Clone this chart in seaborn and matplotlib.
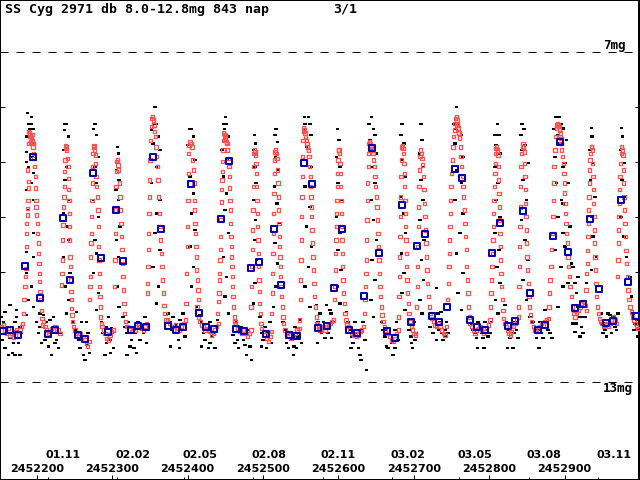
import matplotlib
matplotlib.use("Agg")
import matplotlib.pyplot as plt
import seaborn as sns
import pandas as pd
from matplotlib.transforms import blended_transform_factory

# ---------------- data (days are JD - 2452000, magnitudes) ----------------
JD0 = 2452000

red_day = [
    153.5,155.7,157.9,160.1,162.4,164.6,166.8,169.0,171.2,173.4,175.6,177.8,180.0,181.4,
    182.2,183.1,184.5,184.9,185.8,186.2,186.7,186.7,187.5,187.5,188.4,188.9,188.9,188.0,188.9,189.3,190.2,
    190.2,191.1,192.0,192.8,193.7,194.6,195.5,192.0,193.7,195.1,
    195.5,196.4,197.3,198.2,198.6,199.0,199.0,199.9,200.8,201.2,202.1,202.1,203.0,203.5,203.9,204.3,205.2,206.1,207.0,207.9,
    208.8,211.0,213.2,215.4,217.6,219.8,222.0,224.2,226.4,228.7,230.9,
    232.6,233.5,234.0,234.4,234.8,235.3,236.2,236.6,237.0,237.5,237.9,
    238.4,239.3,239.7,
    240.6,241.5,241.9,242.4,242.8,243.2,243.2,243.7,244.1,244.6,245.0,245.4,245.9,246.3,246.8,247.7,
    248.5,250.8,253.0,255.2,257.4,261.8,264.0,266.2,267.5,269.3,
    269.8,270.6,271.1,271.5,272.0,272.4,272.9,273.3,273.7,274.2,274.6,275.1,
    275.9,276.8,277.7,
    278.2,278.6,279.5,280.4,281.3,281.7,282.1,282.6,283.0,283.5,283.9,284.3,284.8,285.7,
    286.6,288.3,290.5,292.7,295.0,297.2,299.4,301.6,
    302.9,303.8,304.2,304.7,305.1,305.6,306.0,
    306.9,307.8,308.7,
    309.5,310.4,311.3,311.7,312.2,313.1,313.5,314.4,314.8,315.7,316.6,317.5,318.8,
    320.1,322.8,325.4,328.1,330.3,332.5,334.7,336.9,339.2,341.4,343.6,345.8,
    346.7,347.1,347.5,348.0,348.4,348.9,349.3,349.8,350.2,351.1,352.0,352.9,
    353.7,354.6,355.5,356.4,357.3,
    358.2,359.0,359.9,360.8,361.7,362.6,363.5,364.3,365.2,366.1,367.0,367.9,368.8,370.1,371.4,
    373.2,375.8,378.5,381.1,383.8,386.4,389.1,391.7,394.4,397.1,
    397.9,398.8,399.7,400.1,400.6,401.0,401.5,401.9,
    403.2,404.6,405.9,
    406.8,407.7,408.5,409.0,409.4,409.9,410.3,411.2,411.6,412.1,413.0,413.8,414.7,412.6,414.3,416.5,
    418.7,420.9,423.2,425.4,427.6,429.8,432.0,434.2,436.4,438.6,440.8,
    439.9,440.8,441.7,442.2,442.6,443.1,443.5,443.9,444.4,444.8,445.3,445.7,446.1,446.6,447.0,447.5,447.9,
    448.8,449.7,450.6,451.5,452.3,448.8,450.6,
    453.2,454.1,455.0,455.4,455.9,456.3,456.8,457.2,457.6,458.1,458.5,459.0,459.4,459.8,460.3,461.2,462.1,462.9,
    463.8,466.5,469.1,471.8,474.4,477.1,479.7,482.4,484.2,
    484.2,485.0,485.5,485.9,486.4,486.8,487.3,487.7,488.1,488.6,
    489.5,490.3,
    490.8,491.2,491.7,492.1,492.6,493.0,493.4,493.9,494.3,494.8,495.2,495.6,496.5,497.4,
    498.3,500.5,502.7,504.9,507.1,509.4,511.6,
    511.6,512.4,512.9,513.3,513.8,514.2,514.7,515.1,515.5,516.0,
    516.9,517.7,518.6,
    519.5,520.0,520.4,520.8,521.3,521.7,522.2,522.6,523.1,523.5,523.9,524.8,525.7,526.6,527.5,
    529.2,531.9,534.5,537.2,539.8,542.5,545.2,547.8,
    548.7,549.6,550.0,550.5,550.9,551.3,551.8,552.2,552.7,553.1,553.6,554.0,
    554.9,555.8,556.6,557.5,558.4,559.3,560.2,
    561.1,562.0,562.8,563.3,563.7,564.2,564.6,565.0,565.5,566.4,566.8,567.7,568.6,569.5,570.8,572.6,574.3,
    571.2,573.4,575.6,577.8,580.1,582.3,584.5,586.7,588.9,591.1,593.3,
    594.6,595.5,596.0,596.4,596.8,597.3,597.7,598.2,598.6,599.1,599.5,599.9,
    600.8,601.7,
    602.2,602.6,603.0,603.5,603.9,604.4,604.8,605.2,605.7,606.1,607.0,607.9,608.8,610.1,611.4,
    613.2,615.4,617.6,619.8,622.0,624.3,626.5,628.7,630.9,633.1,
    634.4,635.3,636.2,636.6,637.1,637.5,638.0,638.4,638.8,639.7,640.2,640.6,
    641.5,642.4,643.3,644.1,645.0,645.9,
    646.8,647.7,648.6,649.4,650.3,651.2,652.1,652.5,653.0,653.9,654.3,655.2,656.1,657.0,657.8,659.2,660.9,
    662.7,665.4,668.0,670.7,673.3,675.1,677.3,679.5,
    679.5,680.4,680.8,681.3,681.7,682.2,682.6,683.0,683.5,683.9,
    684.8,685.7,686.6,
    687.0,687.5,687.9,688.3,688.8,689.2,689.7,690.1,690.6,691.0,691.9,692.8,693.6,695.0,697.2,
    698.1,700.3,702.5,
    703.8,704.7,705.1,705.6,706.0,706.5,706.9,707.3,708.2,709.1,
    710.0,710.9,711.8,
    712.7,713.5,714.4,714.9,715.7,716.2,716.6,717.5,718.4,719.3,720.6,721.9,723.7,725.9,728.1,730.3,
    732.5,734.7,736.9,739.2,741.4,743.6,
    744.9,745.8,746.7,747.1,747.5,748.0,748.4,748.9,749.3,750.2,751.1,752.0,752.9,753.7,754.6,755.5,
    756.4,757.3,758.2,759.0,759.9,760.8,757.3,759.0,
    761.7,762.6,763.5,764.3,765.2,766.1,767.0,767.9,768.8,769.6,770.1,771.0,771.9,772.7,773.6,774.9,
    776.7,778.9,781.1,783.4,785.6,787.8,790.0,792.2,794.4,796.6,798.8,801.0,
    801.5,802.4,803.2,803.7,804.1,805.0,805.5,805.9,806.3,806.8,807.7,808.1,808.5,809.0,
    809.9,810.8,811.6,
    812.1,812.5,813.0,813.4,813.8,814.3,814.7,815.2,815.6,816.5,817.4,818.3,819.2,820.9,822.7,
    824.5,826.2,828.0,829.8,832.0,834.2,836.4,838.6,
    838.6,839.5,839.9,840.4,840.8,841.3,841.7,842.1,843.0,843.9,
    844.8,845.7,846.6,
    847.0,847.5,847.9,848.3,848.8,849.2,849.6,850.1,851.0,851.9,852.7,853.6,855.0,856.3,858.5,860.7,
    862.9,865.1,867.3,869.5,871.8,874.0,876.2,878.4,
    879.3,880.1,881.0,881.9,882.8,883.7,884.6,885.5,885.9,886.3,887.2,888.1,889.0,889.9,
    890.8,891.7,892.5,893.4,894.3,895.2,896.1,
    893.9,895.2,896.1,897.4,898.3,899.2,899.6,900.1,900.5,901.0,901.9,902.7,903.6,904.5,905.4,906.3,907.2,908.9,910.7,912.5,
    913.8,916.0,918.2,920.4,922.6,924.8,927.1,929.3,
    928.4,929.3,930.1,930.6,931.0,931.5,931.9,932.4,932.8,933.2,933.7,934.6,935.4,
    935.9,936.8,
    937.2,937.7,938.1,938.5,939.0,939.4,939.9,940.3,940.8,941.6,942.5,943.4,944.7,946.1,947.8,
    949.2,951.4,953.6,955.8,958.0,960.2,962.4,964.6,966.8,969.0,
    969.9,970.8,971.3,971.7,972.1,972.6,973.0,973.5,974.3,975.2,975.7,
    976.6,977.4,
    977.9,978.3,978.8,979.6,980.1,980.5,981.4,982.3,983.2,984.1,985.4,986.7,988.5,990.3,992.0,993.8,995.6,997.3,
]
red_mag = [
    12.00,11.97,12.06,12.12,12.03,12.15,12.12,12.20,12.09,12.06,12.15,12.06,12.00,11.94,
    11.76,11.51,11.27,11.09,10.94,10.54,10.30,10.12,9.97,9.85,9.70,9.48,9.36,9.15,8.67,8.45,8.54,
    8.48,8.51,8.54,8.57,8.61,8.64,8.67,8.64,8.51,8.73,
    8.85,8.94,9.09,9.27,9.48,9.70,9.82,9.97,10.12,10.30,10.48,10.67,10.85,11.03,11.18,11.36,11.51,11.70,11.85,11.97,
    11.91,12.00,12.06,12.12,12.09,12.03,12.06,12.00,12.09,12.06,12.12,
    11.24,11.03,10.79,10.42,10.15,9.82,9.64,9.45,9.18,8.97,8.76,
    8.70,8.73,8.79,
    8.94,9.09,9.30,9.51,9.70,9.94,10.18,10.42,10.73,10.91,11.15,11.36,11.51,11.67,11.79,11.91,
    12.00,12.06,12.12,12.15,12.12,12.18,12.24,12.30,12.36,12.27,
    11.51,11.27,11.09,10.73,10.48,10.30,10.00,9.70,9.39,9.09,8.85,8.73,
    8.70,8.79,8.88,
    9.03,9.27,9.45,9.64,9.88,10.18,10.54,10.79,11.03,11.27,11.45,11.64,11.82,11.94,
    12.00,12.06,12.12,12.21,12.24,12.15,12.09,12.06,
    11.27,10.79,10.30,9.88,9.45,9.18,9.00,
    8.97,9.06,9.15,
    9.39,9.64,9.88,10.12,10.36,10.60,10.85,11.09,11.33,11.58,11.76,11.91,12.00,
    12.00,12.06,12.09,12.03,12.06,12.00,11.97,12.00,12.03,12.06,12.00,11.94,
    11.39,11.21,10.91,10.60,10.30,9.94,9.64,9.33,8.97,8.61,8.36,8.21,
    8.18,8.24,8.33,8.45,8.54,
    8.73,8.91,9.09,9.33,9.64,9.94,10.18,10.42,10.67,10.91,11.15,11.39,11.61,11.76,11.88,
    11.88,11.94,12.00,12.06,11.97,12.03,12.06,12.00,11.94,11.88,
    11.58,11.03,10.54,10.18,9.70,9.21,8.85,8.70,
    8.64,8.67,8.73,
    8.97,9.15,9.39,9.70,9.88,10.12,10.30,10.54,10.73,10.97,11.15,11.33,11.51,11.64,11.82,11.91,
    11.97,12.00,12.06,12.03,12.06,12.09,12.15,12.12,12.06,12.00,11.94,
    11.76,11.54,11.39,11.15,11.03,10.79,10.60,10.36,10.06,9.73,9.51,9.33,9.18,9.00,8.79,8.61,8.48,
    8.51,8.54,8.59,8.64,8.67,8.61,8.51,
    8.79,8.94,9.09,9.27,9.48,9.70,9.88,10.12,10.36,10.54,10.73,10.91,11.09,11.27,11.45,11.64,11.82,11.91,
    11.94,12.03,12.09,12.12,12.06,12.12,12.18,12.12,12.06,
    11.64,11.27,10.91,10.60,10.24,9.88,9.45,9.09,8.85,8.79,
    8.82,8.88,
    9.03,9.21,9.45,9.70,9.94,10.18,10.42,10.67,10.91,11.15,11.36,11.58,11.76,11.94,
    12.03,12.09,12.15,12.21,12.27,12.18,12.09,
    11.76,11.39,11.03,10.67,10.30,9.94,9.58,9.21,8.97,8.82,
    8.79,8.85,8.94,
    9.15,9.39,9.64,9.88,10.12,10.36,10.54,10.73,10.91,11.09,11.27,11.45,11.64,11.82,11.94,
    12.06,12.12,12.15,12.21,12.18,12.12,12.06,12.03,
    11.88,11.51,11.15,10.79,10.42,10.00,9.64,9.27,8.91,8.61,8.45,8.39,
    8.42,8.48,8.54,8.61,8.67,8.73,8.79,
    8.91,9.09,9.27,9.45,9.64,9.82,10.00,10.24,10.48,10.73,10.97,11.21,11.45,11.64,11.82,11.94,12.03,
    11.94,12.00,12.06,12.03,12.00,12.06,12.00,11.97,11.94,11.91,11.88,
    11.51,11.27,10.97,10.67,10.42,10.18,9.94,9.70,9.45,9.21,8.97,8.79,
    8.79,8.85,
    9.03,9.21,9.45,9.70,9.94,10.18,10.42,10.67,10.91,11.15,11.39,11.58,11.76,11.88,11.97,
    12.00,12.06,12.12,12.15,12.12,12.18,12.15,12.09,12.06,12.00,
    11.76,11.51,11.27,11.03,10.79,10.42,10.06,9.70,9.39,9.09,8.85,8.67,
    8.64,8.67,8.73,8.76,8.79,8.85,
    8.97,9.09,9.27,9.45,9.64,9.82,10.06,10.30,10.54,10.79,11.03,11.27,11.45,11.64,11.79,11.91,12.00,
    12.06,12.12,12.18,12.24,12.27,12.21,12.12,12.06,
    11.82,11.45,11.09,10.73,10.36,10.00,9.64,9.27,8.97,8.73,
    8.70,8.76,8.85,
    9.03,9.21,9.45,9.70,9.94,10.18,10.42,10.67,10.91,11.15,11.39,11.58,11.76,11.91,12.00,
    12.06,12.12,12.15,
    11.64,11.27,10.91,10.54,10.18,9.82,9.45,9.15,8.91,8.79,
    8.85,8.94,9.06,
    9.27,9.51,9.76,10.00,10.24,10.48,10.73,10.97,11.21,11.45,11.64,11.76,11.85,11.91,11.97,12.00,
    11.94,12.00,12.06,12.12,12.15,12.00,
    11.51,11.21,10.91,10.67,10.42,10.18,9.94,9.70,9.45,9.21,8.97,8.73,8.54,8.42,8.30,8.21,
    8.18,8.24,8.30,8.39,8.48,8.57,8.33,8.48,
    8.73,8.91,9.09,9.27,9.45,9.64,9.88,10.12,10.36,10.60,10.91,11.15,11.39,11.64,11.82,11.94,
    12.00,12.06,12.12,12.06,12.03,12.00,12.06,12.12,12.09,12.03,11.97,11.88,
    11.64,11.39,11.15,10.91,10.67,10.42,10.18,9.94,9.70,9.45,9.21,9.03,8.85,8.76,
    8.73,8.79,8.88,
    9.09,9.33,9.58,9.82,10.06,10.30,10.54,10.79,11.03,11.27,11.51,11.70,11.85,11.94,12.00,
    12.06,12.12,12.15,12.09,12.00,11.94,11.88,11.82,
    11.64,11.27,10.91,10.54,10.18,9.82,9.45,9.09,8.85,8.73,
    8.67,8.73,8.82,
    9.03,9.27,9.51,9.76,10.00,10.24,10.48,10.73,10.97,11.21,11.45,11.64,11.79,11.91,12.00,12.06,
    12.09,12.06,12.00,11.94,11.97,11.91,11.88,11.85,
    11.64,11.39,11.15,10.91,10.60,10.30,10.00,9.70,9.39,9.09,8.79,8.54,8.39,8.33,
    8.30,8.33,8.36,8.42,8.48,8.58,8.67,
    8.54,8.67,8.79,8.91,9.03,9.21,9.39,9.57,9.76,9.94,10.12,10.30,10.48,10.73,10.91,11.09,11.27,11.45,11.64,11.76,
    11.82,11.76,11.70,11.64,11.58,11.54,11.61,11.70,
    11.33,11.03,10.85,10.61,10.36,10.12,9.88,9.64,9.39,9.15,8.97,8.85,8.73,
    8.73,8.79,
    9.03,9.27,9.51,9.76,10.00,10.24,10.48,10.73,10.97,11.21,11.45,11.64,11.76,11.85,11.91,
    11.94,12.00,11.97,11.94,12.00,11.94,11.88,11.82,11.88,11.94,
    11.09,10.79,10.48,10.24,10.00,9.76,9.51,9.27,9.03,8.85,8.73,
    8.79,8.88,
    9.15,9.39,9.64,9.88,10.12,10.36,10.61,10.85,11.09,11.33,11.51,11.64,11.73,11.82,11.88,11.94,12.00,12.03,
]

black_day = [
    153.5,155.7,157.9,160.1,164.6,166.8,169.0,171.2,173.4,175.6,177.8,162.4,171.2,157.9,180.0,164.6,173.4,177.8,154.8,168.1,
    188.0,193.3,188.9,192.4,191.1,195.5,186.7,195.5,186.7,194.6,186.7,188.9,195.5,193.3,186.7,195.5,188.9,195.5,186.7,195.5,186.7,193.3,188.9,195.5,186.7,
    199.9,202.1,204.3,206.6,208.8,211.0,213.2,215.4,217.6,219.8,222.0,224.2,226.4,228.7,230.9,204.3,217.6,226.4,
    237.5,239.7,236.6,241.9,235.3,239.7,237.5,241.9,235.3,239.7,241.9,235.3,244.1,237.5,241.9,239.7,
    248.5,250.8,253.0,255.2,257.4,259.6,261.8,264.0,266.2,268.4,253.0,259.6,266.2,269.8,
    277.3,275.1,279.5,275.9,281.7,277.3,279.5,275.1,281.7,277.3,279.5,275.1,281.7,279.5,
    286.1,288.3,290.5,292.7,295.0,297.2,299.4,301.6,291.9,298.0,
    306.9,308.2,306.0,309.5,305.1,308.2,310.4,306.0,308.7,306.9,309.5,
    314.8,317.1,319.3,321.5,323.7,325.9,328.1,330.3,332.5,334.7,336.9,339.2,341.4,343.6,345.8,320.1,329.0,
    356.8,355.5,359.0,352.4,361.3,354.6,363.5,359.0,352.4,363.5,359.0,356.8,363.5,354.6,361.3,359.0,
    374.5,376.7,378.9,381.1,383.4,385.6,387.8,390.0,392.2,394.4,396.6,377.6,389.1,
    403.2,405.5,407.7,401.0,409.9,403.2,407.7,405.5,409.9,403.2,407.7,405.5,412.1,
    416.5,418.7,421.0,423.2,425.4,427.6,429.8,432.0,434.2,436.4,438.6,418.7,429.8,440.0,
    450.6,447.5,451.9,448.8,454.1,446.1,453.2,447.5,451.9,449.7,454.1,447.5,451.9,449.7,454.1,
    460.7,463.0,465.2,467.4,469.6,471.8,474.0,476.2,478.4,480.6,482.8,485.0,466.5,476.2,
    488.6,490.3,487.7,489.5,491.2,487.3,490.3,488.6,491.7,489.5,487.7,
    496.1,498.3,500.5,502.7,504.9,507.1,509.4,511.6,498.3,506.3,
    517.7,516.0,519.5,516.9,520.4,515.1,518.6,521.3,516.0,519.5,517.7,514.2,
    527.0,529.2,531.5,533.7,535.9,538.1,540.3,542.5,544.7,546.9,549.1,551.3,533.7,541.6,
    554.9,560.2,555.8,562.4,553.6,563.7,558.0,564.6,555.8,562.4,558.0,564.6,560.2,555.8,562.4,
    571.2,575.6,580.1,584.5,588.9,573.4,577.8,582.3,586.7,591.1,593.3,572.5,590.2,
    599.1,600.8,597.7,602.2,599.9,603.5,597.7,602.2,599.9,603.5,599.1,602.2,
    611.0,613.2,615.4,617.6,619.8,622.0,624.3,626.5,628.7,630.9,633.1,635.3,616.7,630.0,637.5,
    644.1,640.6,646.4,648.6,641.9,650.8,645.0,648.6,643.3,646.8,650.8,645.0,648.6,643.3,646.8,
    657.4,659.6,661.8,664.0,666.2,668.5,670.7,672.9,675.1,677.3,679.5,664.0,675.1,
    684.8,683.0,687.5,684.8,688.3,683.0,686.6,689.2,683.9,687.5,684.8,688.3,
    694.1,696.3,698.5,700.7,702.9,697.2,701.6,
    709.6,711.3,707.8,713.1,709.6,712.2,708.7,714.0,710.4,713.1,708.7,711.3,
    721.5,725.9,730.3,733.4,730.3,732.5,734.7,736.9,739.2,741.4,743.6,745.8,736.1,742.2,
    756.8,753.7,759.0,755.5,763.5,754.6,765.7,756.8,763.5,754.6,765.7,761.3,756.8,765.7,759.0,763.5,
    774.5,776.7,778.9,781.1,783.4,785.6,787.8,790.0,792.2,794.4,796.6,798.8,801.0,784.7,793.5,803.2,
    811.2,807.7,813.0,809.4,814.7,807.7,812.1,809.4,814.7,807.7,813.0,810.3,814.7,808.5,812.1,
    820.9,823.1,825.3,827.6,829.8,832.0,834.2,836.4,838.6,824.5,833.3,
    843.9,846.6,842.1,847.5,843.9,851.9,845.2,849.6,843.0,847.5,851.9,845.2,849.6,854.1,
    858.5,860.7,862.9,865.1,867.3,869.5,871.8,874.0,876.2,878.4,880.6,866.0,883.7,
    888.1,892.5,889.4,896.1,886.3,898.3,890.8,893.9,887.2,898.3,889.4,896.1,891.6,898.3,888.1,895.2,898.3,891.6,
    896.1,898.3,902.7,900.5,905.0,898.3,907.2,900.5,909.4,905.0,911.6,913.8,916.0,918.2,920.4,922.6,924.8,927.1,929.3,916.0,913.8,920.4,911.6,924.8,918.2,929.3,
    935.9,936.8,933.7,938.1,934.6,940.3,935.9,938.1,942.5,935.9,
    949.2,951.4,953.6,955.8,958.0,960.2,962.4,964.6,966.8,969.0,971.3,951.4,960.2,
    975.7,977.0,974.3,978.8,976.1,980.1,975.2,978.8,982.3,986.7,988.9,
    991.1,993.4,995.6,997.8,992.0,996.4,
]
black_mag = [
    11.82,11.91,11.73,12.00,12.21,12.12,12.30,11.91,11.82,12.30,12.51,12.51,12.51,12.39,12.12,11.61,11.70,12.00,12.24,12.48,
    8.11,8.19,8.31,8.31,8.41,8.41,8.54,8.67,8.82,8.92,9.00,9.09,9.21,9.39,9.51,9.70,9.88,10.30,10.64,10.73,11.03,11.27,11.51,11.64,11.79,
    11.91,12.12,11.76,12.30,11.79,12.24,11.91,12.36,12.12,12.51,11.82,12.30,12.00,12.39,12.12,12.00,11.88,12.24,
    8.31,8.31,8.42,8.54,8.79,9.09,9.33,9.70,9.94,10.18,10.42,10.73,11.03,11.27,11.51,11.76,
    11.91,12.06,11.73,12.24,12.39,11.91,12.51,12.60,12.33,12.12,12.12,12.24,11.91,12.48,
    8.31,8.41,8.51,8.70,8.91,9.09,9.39,9.70,10.00,10.42,10.67,11.03,11.39,11.70,
    11.91,12.12,12.51,12.30,11.82,12.24,12.03,12.39,12.00,12.48,
    8.73,8.85,9.15,9.33,9.51,9.70,10.18,10.42,10.73,11.27,11.64,
    11.82,12.00,12.12,11.91,12.36,12.24,12.00,12.12,12.48,11.91,12.24,12.00,12.12,11.82,12.30,12.51,12.39,
    8.00,8.31,8.31,8.42,8.54,8.67,8.79,9.09,9.39,9.70,9.94,10.30,10.60,10.91,11.27,11.58,
    11.76,11.91,12.06,11.82,12.12,11.97,12.24,11.88,12.06,11.76,12.18,12.36,12.39,
    8.41,8.41,8.54,8.70,8.97,9.27,9.58,9.94,10.24,10.54,10.91,11.27,11.64,
    11.79,11.91,12.12,12.24,12.06,12.39,11.91,12.18,12.12,12.39,12.00,12.36,12.30,11.88,
    8.19,8.31,8.31,8.41,8.54,8.79,8.97,9.27,9.58,9.88,10.30,10.73,11.09,11.45,11.76,
    12.15,12.30,11.91,12.39,12.12,12.00,12.24,12.15,12.51,12.06,12.36,12.60,12.24,12.33,
    8.51,8.67,8.79,9.09,9.39,9.70,10.06,10.42,10.79,11.21,11.58,
    11.82,12.12,12.24,12.00,12.39,12.15,11.91,12.30,12.36,12.12,
    8.41,8.51,8.64,8.91,9.15,9.45,9.76,10.12,10.48,10.85,11.27,11.64,
    11.91,12.06,12.30,12.39,12.12,12.24,12.51,12.00,12.39,12.18,11.88,12.30,12.15,12.36,
    8.19,8.19,8.31,8.31,8.41,8.51,8.73,9.09,9.45,9.82,10.18,10.54,10.91,11.27,11.64,
    11.61,11.76,11.91,11.61,11.70,11.91,12.12,12.21,12.12,12.21,11.91,12.30,11.76,
    8.41,8.61,8.91,9.09,9.39,9.70,10.00,10.30,10.60,10.97,11.27,11.58,
    11.73,11.91,12.06,12.18,12.30,11.91,12.12,12.39,12.51,12.06,11.91,12.24,12.39,12.60,12.79,
    8.19,8.31,8.41,8.51,8.61,8.85,9.09,9.39,9.70,10.06,10.42,10.79,11.15,11.51,11.82,
    11.91,12.06,12.18,12.06,12.39,12.15,12.30,12.51,12.06,11.91,12.24,12.36,12.39,
    8.31,8.51,8.67,8.97,9.27,9.64,9.94,10.30,10.67,11.03,11.39,11.70,
    12.06,12.18,12.39,11.91,12.12,12.30,12.24,
    8.31,8.61,8.85,9.09,9.33,9.70,10.06,10.42,10.79,11.15,11.51,11.76,
    12.00,12.12,12.24,12.06,11.30,11.76,11.91,12.12,12.24,12.06,11.91,12.12,11.73,12.18,
    8.00,8.31,8.31,8.41,8.51,8.67,8.91,9.15,9.39,9.70,9.94,10.30,10.67,11.03,11.39,11.70,
    11.82,11.94,12.06,12.12,12.21,11.91,12.06,12.12,12.21,11.91,12.06,12.18,12.12,12.39,12.39,11.91,
    8.31,8.51,8.51,8.70,8.85,9.09,9.39,9.70,10.00,10.30,10.60,10.91,11.21,11.51,11.76,
    11.61,11.91,12.06,12.21,12.12,12.39,11.91,12.06,12.21,12.39,12.12,
    8.31,8.41,8.51,8.70,8.79,9.03,9.33,9.70,10.06,10.42,10.79,11.15,11.51,11.82,
    11.91,12.06,12.21,12.06,11.91,12.12,12.21,11.70,11.91,12.06,12.12,12.39,12.21,
    8.19,8.19,8.31,8.31,8.41,8.41,8.51,8.67,8.91,9.09,9.39,9.70,10.00,10.30,10.60,10.91,11.27,11.64,
    8.31,8.39,8.61,9.03,9.39,9.76,10.18,10.54,10.85,11.21,10.91,11.21,11.39,11.64,11.82,12.00,12.12,11.82,11.64,11.94,12.09,12.18,11.94,11.82,11.09,11.21,
    8.39,8.54,8.79,9.03,9.33,9.64,10.00,10.36,10.73,10.97,
    11.76,11.94,12.06,12.18,11.76,11.94,12.12,11.82,12.00,12.06,11.76,12.12,11.79,
    8.39,8.54,8.79,9.03,9.33,9.64,10.00,10.36,10.73,11.09,11.45,
    11.76,11.94,12.06,12.18,12.06,11.88,
]

mean_day = [155.7,165.0,175.6,184.9,195.5,204.7,215.3,224.6,235.2,244.5,255.1,264.4,275.0,285.6,
            294.9,305.5,314.8,325.4,334.7,344.9,354.6,365.2,374.5,385.1,394.4,404.6,415.2,424.9,
            435.5,444.8,455.4,464.6,475.2,484.5,495.1,504.4,514.6,524.3,534.9,545.5,554.8,565.4,
            573.4,585.3,594.6,605.2,614.5,625.1,634.4,645.0,654.3,664.9,675.5,684.8,695.9,704.6,
            715.3,724.5,733.8,744.4,755.0,764.3,774.9,784.2,794.8,804.1,814.7,825.3,834.6,845.2,
            854.5,865.1,874.4,885.0,894.3,904.9,914.2,924.8,934.0,945.2,955.3,964.5,975.2,984.4,995.0]
mean_mag = [12.08,12.06,12.15,10.90,8.91,11.48,12.13,12.06,10.02,11.15,12.15,12.22,9.21,10.75,
            12.10,9.88,10.81,12.06,11.99,12.01,8.91,10.22,11.99,12.06,12.01,9.41,11.75,12.01,
            12.04,10.04,8.99,12.04,12.08,10.93,10.82,12.13,10.22,11.24,12.15,12.17,9.02,9.41,
            12.02,11.99,11.30,10.22,12.06,12.11,11.44,8.75,10.66,12.08,12.21,9.79,11.91,10.53,
            10.31,11.81,11.91,11.64,9.13,9.30,11.88,12.01,12.06,10.66,10.11,11.99,11.90,9.90,
            11.39,12.06,11.97,10.35,8.64,10.64,11.66,11.59,10.04,11.31,11.93,11.90,9.70,11.19,11.81]

jd_ticks = [2452200, 2452300, 2452400, 2452500, 2452600, 2452700, 2452800, 2452900]
month_jd = [2452214.5, 2452306.5, 2452395.5, 2452487.5, 2452579.5,
            2452671.5, 2452760.5, 2452852.5, 2452944.5]
month_labels = ["01.11", "02.02", "02.05", "02.08", "02.11",
                "03.02", "03.05", "03.08", "03.11"]
mag_ticks = [8, 9, 10, 11, 12]
limit_mags = [7, 13]
limit_labels = ["7mg", "13mg"]
title_text = "SS Cyg 2971 db 8.0-12.8mg 843 nap"
page_text = "3/1"

assert len(red_day) == len(red_mag), (len(red_day), len(red_mag))
assert len(black_day) == len(black_mag), (len(black_day), len(black_mag))
assert len(mean_day) == len(mean_mag)

red = pd.DataFrame({"jd": [JD0 + d for d in red_day], "mag": red_mag})
black = pd.DataFrame({"jd": [JD0 + d for d in black_day], "mag": black_mag})
means = pd.DataFrame({"jd": [JD0 + d for d in mean_day], "mag": mean_mag})

# ---------------- figure ----------------
sns.set_theme(style="white")
plt.rcParams["font.family"] = ["DejaVu Sans Mono", "DejaVu Sans"]

PX = 0.72  # one pixel in points at dpi 100
fig = plt.figure(figsize=(6.4, 4.8), dpi=100)
fig.patch.set_facecolor("white")
ax = fig.add_axes([0, 0, 1, 1])
ax.set_facecolor("white")

rect = [(-1.6, -1.0), (1.6, -1.0), (1.6, 1.0), (-1.6, 1.0), (-1.6, -1.0)]
sns.scatterplot(data=black, x="jd", y="mag", marker=rect, s=(3.6 * PX) ** 2,
                color="black", edgecolor="none", linewidth=0, ax=ax, zorder=2)
sns.scatterplot(data=red, x="jd", y="mag", marker="s", s=(3.4 * PX) ** 2,
                facecolor="none", edgecolor="#ff5252", linewidth=1.3 * PX, ax=ax, zorder=3)
sns.scatterplot(data=means, x="jd", y="mag", marker="s", s=(6.0 * PX) ** 2,
                facecolor="none", edgecolor="#0000b0", linewidth=2.0 * PX, ax=ax, zorder=4)

ax.set_xlim(2452151.3, 2453000.1)
ax.set_ylim(14.787, 6.06)
ax.set_xlabel("")
ax.set_ylabel("")

# dashed limit lines
for m in limit_mags:
    ax.axhline(m, xmin=0, xmax=635 / 640, color="black", lw=1 * PX,
               linestyle=(0, (8, 8)), zorder=1)

# spines (frame round the picture)
for side in ["left", "bottom", "top"]:
    ax.spines[side].set_visible(True)
    ax.spines[side].set_color("black")
    ax.spines[side].set_linewidth(2 * PX)
ax.spines["right"].set_visible(True)
ax.spines["right"].set_color("black")
ax.spines["right"].set_linewidth(4 * PX)

# ticks
ax.set_xticks(jd_ticks)
ax.set_xticks(month_jd, minor=True)
ax.set_yticks(mag_ticks)
ax.set_yticks([], minor=True)
ax.tick_params(axis="x", which="major", direction="in", length=5 * PX, width=1 * PX,
               bottom=True, top=False, labelbottom=False, color="black")
ax.tick_params(axis="x", which="minor", direction="in", length=3.5 * PX, width=1 * PX,
               bottom=True, top=False, color="black")
ax.tick_params(axis="y", which="major", direction="in", length=5 * PX, width=1 * PX,
               left=True, right=True, labelleft=False, labelright=False, color="black")
ax.grid(False)

# texts
mono = dict(fontsize=9, fontweight="bold", color="black",
            family=["DejaVu Sans Mono", "DejaVu Sans"])
tick_font = dict(fontsize=8, fontweight="bold", color="black", family=["DejaVu Sans"])
bt = blended_transform_factory(ax.transData, ax.transAxes)
for jd in jd_ticks:
    ax.text(jd, 1 - 469.5 / 480, str(jd), transform=bt, ha="center", va="center", **tick_font)
for jd, lab in zip(month_jd, month_labels):
    ax.text(jd - 2.5, 1 - 455 / 480, lab, transform=bt, ha="left", va="center", **tick_font)

bt2 = blended_transform_factory(ax.transAxes, ax.transData)
ax.text(603 / 640, limit_mags[0] - 6.7 / 55, limit_labels[0], transform=bt2,
        ha="left", va="center", **mono)
ax.text(603 / 640, limit_mags[1] + 6.5 / 55, limit_labels[1], transform=bt2,
        ha="left", va="center", **mono)

title_font = dict(mono)
title_font["fontsize"] = 9.5
ax.text(5 / 640, 1 - 9 / 480, title_text, transform=ax.transAxes, ha="left", va="center", **title_font)
ax.text(333 / 640, 1 - 9 / 480, page_text, transform=ax.transAxes, ha="left", va="center", **title_font)

legend = ax.get_legend()
if legend is not None:
    legend.remove()

fig.savefig("out.png", dpi=100)
